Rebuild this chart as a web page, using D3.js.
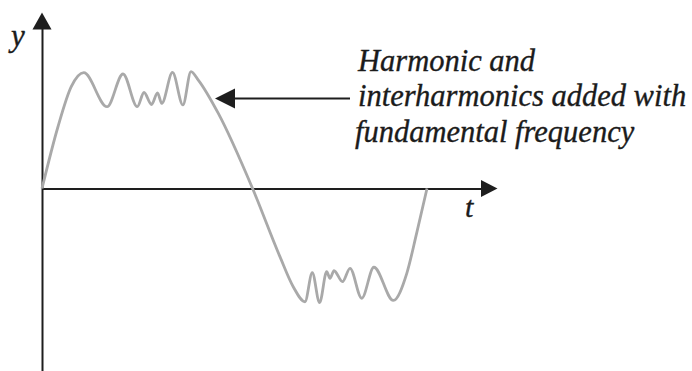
<!DOCTYPE html>
<html>
<head>
<meta charset="utf-8">
<script src="https://cdn.jsdelivr.net/npm/d3@7"></script>
<style>
  html, body { margin: 0; padding: 0; background: #fff; }
  svg { display: block; }
  .lbl { font-family: "Liberation Serif", "Times New Roman", serif; font-style: italic; fill: #1b1b1b; stroke: #1b1b1b; stroke-width: 0.35; }
</style>
</head>
<body>
<svg id="chart" width="692" height="371"></svg>
<script>
// Time (ms) of the waveform's turning points over one 20 ms cycle
const tValues = [0, 0.83, 1.52, 2.17, 3.38, 4.21, 4.95, 5.30, 5.69, 6.00, 6.22, 6.78, 7.32, 7.74,
  8.12, 9.16, 10.94, 12.36, 13.05, 13.66, 14.04, 14.42, 14.79, 14.96, 15.17, 15.61, 16.00,
  16.61, 17.24, 18.25, 18.95, 19.46, 20.0];
// Normalised amplitude at those instants (fundamental plus harmonics / interharmonics)
const yValues = [0, 0.53, 0.874, 0.994, 0.702, 0.983, 0.702, 0.824, 0.721, 0.820, 0.730, 0.996, 0.717, 1.004,
  0.931, 0.645, 0, -0.585, -0.843, -0.972, -0.723, -0.980, -0.714, -0.771, -0.706, -0.800, -0.685,
  -0.942, -0.676, -0.961, -0.728, -0.385, 0];
const axisLabels = { y: "y", t: "t" };
const noteLines = ["Harmonic and", "interharmonics added with", "fundamental frequency"];

const svg = d3.select("#chart");

const x = d3.scaleLinear().domain([0, 20]).range([42, 427]);
const y = d3.scaleLinear().domain([-1, 1]).range([305, 72]);

const ink = "#1e1e1e";

// Axes without ticks: horizontal t axis through y = 0, vertical y axis at t = 0
const tAxisScale = d3.scaleLinear().domain([0, 1]).range([x(0), 484]);
svg.append("g")
  .attr("transform", `translate(0,${y(0)})`)
  .call(d3.axisBottom(tAxisScale).tickValues([]).tickSizeOuter(0))
  .select(".domain").attr("stroke", ink).attr("stroke-width", 2);

const yAxisScale = d3.scaleLinear().domain([0, 1]).range([371, 26]);
svg.append("g")
  .attr("transform", `translate(${x(0)},0)`)
  .call(d3.axisLeft(yAxisScale).tickValues([]).tickSizeOuter(0))
  .select(".domain").attr("stroke", ink).attr("stroke-width", 2);

// Arrowheads
svg.append("path")
  .attr("d", `M${x(0)},12.5 L${x(0) - 9.5},29.5 L${x(0) + 9.5},29.5 Z`)
  .attr("fill", ink);
svg.append("path")
  .attr("d", `M497.5,${y(0)} L481,${y(0) - 8.5} L481,${y(0) + 8.5} Z`)
  .attr("fill", ink);

// Waveform
const pts = tValues.map((t, i) => [t, yValues[i]]);
const line = d3.line()
  .x(d => x(d[0]))
  .y(d => y(d[1]))
  .curve(d3.curveMonotoneX);
svg.append("path")
  .datum(pts)
  .attr("d", line)
  .attr("fill", "none")
  .attr("stroke", "#a9a9a9")
  .attr("stroke-width", 2.8)
  .attr("stroke-linejoin", "round");

// Axis labels
svg.append("text").attr("class", "lbl")
  .attr("x", 11).attr("y", 46).attr("font-size", 31).text(axisLabels.y);
svg.append("text").attr("class", "lbl")
  .attr("x", 465).attr("y", 217).attr("font-size", 30).text(axisLabels.t);

// Annotation arrow and text
svg.append("line")
  .attr("x1", 350).attr("x2", 232).attr("y1", 98.5).attr("y2", 98.5)
  .attr("stroke", ink).attr("stroke-width", 2);
svg.append("path")
  .attr("d", "M215,98.5 L235,88.5 L235,108.5 Z")
  .attr("fill", ink);

const note = svg.append("text").attr("class", "lbl").attr("font-size", 30.5);
noteLines.forEach((s, i) => {
  note.append("tspan")
    .attr("x", i === 2 ? 355 : 358)
    .attr("y", 70.5 + i * 35.5)
    .text(s);
});
</script>
</body>
</html>
